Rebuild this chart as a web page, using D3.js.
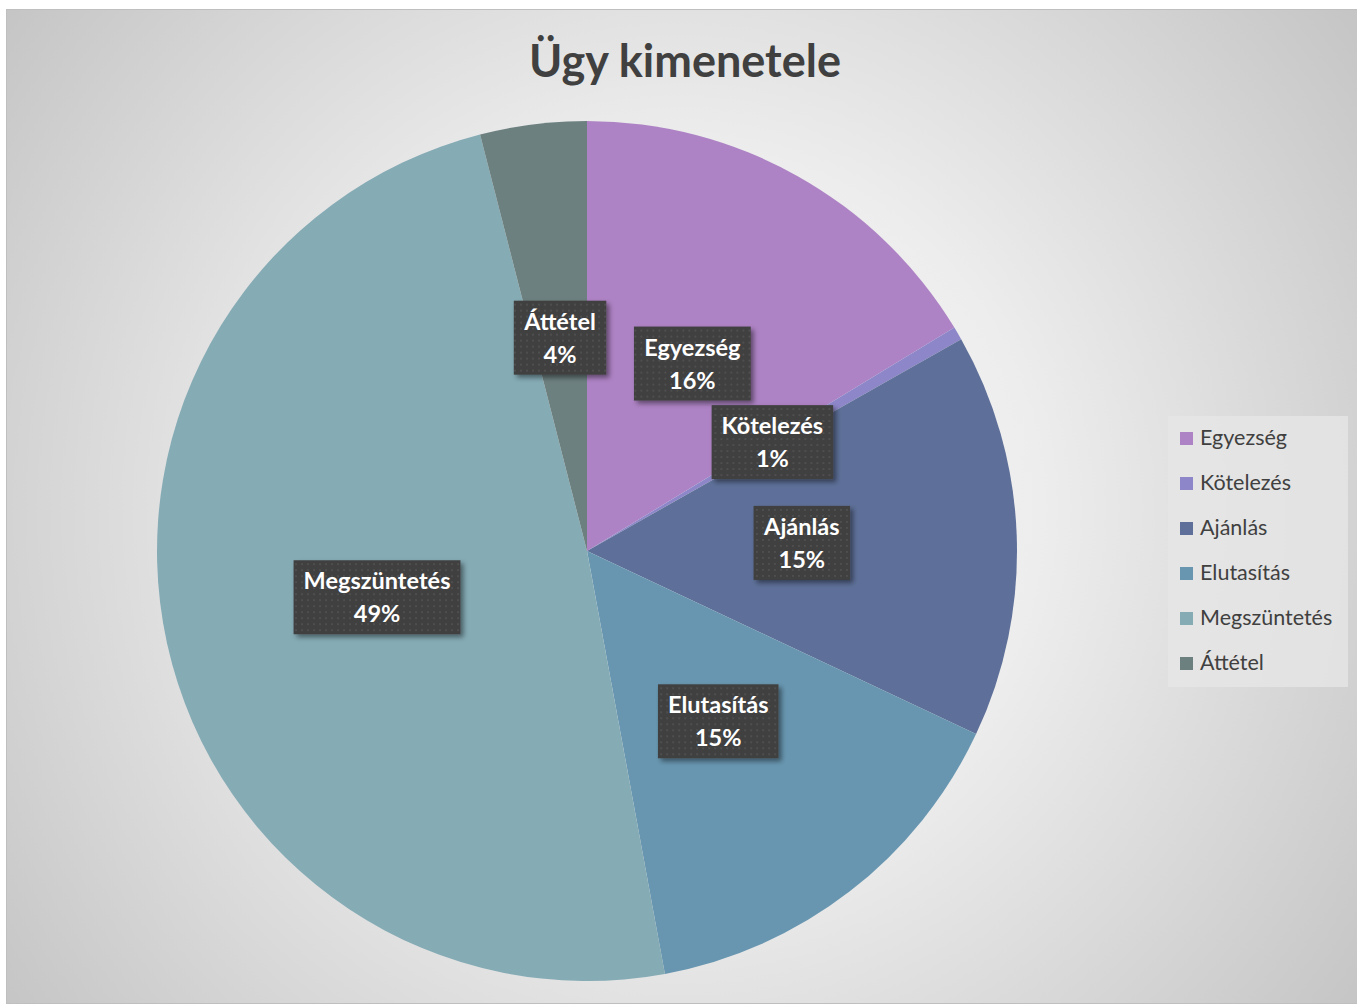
<!DOCTYPE html>
<html>
<head>
<meta charset="utf-8">
<script src="https://cdn.jsdelivr.net/npm/d3@7"></script>
<style>
  body { margin: 0; background: #fff; }
  text { font-family: Lato, "Open Sans", sans-serif; }
</style>
</head>
<body>
<svg id="chart"></svg>
<script>
const categories = ['Egyezség', 'Kötelezés', 'Ajánlás', 'Elutasítás', 'Megszüntetés', 'Áttétel'];
const shares = [16.3, 0.5, 15.2, 15.1, 48.9, 4.0];
const labels = ['16%', '1%', '15%', '15%', '49%', '4%'];
const colors = ['#ae83c5', '#8d86c9', '#5e7099', '#6896b0', '#85abb5', '#6d8080'];

const data = categories.map((c, i) => ({name: c, value: shares[i], label: labels[i]}));

const W = 1357, H = 1005;
const svg = d3.select('#chart').attr('width', W).attr('height', H);
const defs = svg.append('defs');

const bg = defs.append('radialGradient').attr('id', 'bg')
.attr('gradientUnits', 'userSpaceOnUse')
.attr('cx', 680).attr('cy', 510).attr('r', 900);
bg.append('stop').attr('offset', '0%').attr('stop-color', '#fbfbfb');
bg.append('stop').attr('offset', '40%').attr('stop-color', '#ededed');
bg.append('stop').attr('offset', '100%').attr('stop-color', '#c0c0c0');

const pat = defs.append('pattern').attr('id', 'dots')
.attr('patternUnits', 'userSpaceOnUse').attr('width', 6).attr('height', 6);
pat.append('rect').attr('width', 6).attr('height', 6).attr('fill', '#3f3f3f');
pat.append('rect').attr('x', 2).attr('y', 2).attr('width', 2).attr('height', 2).attr('fill', '#4f4f4f');

const shadow = defs.append('filter').attr('id', 'shadow')
.attr('x', '-20%').attr('y', '-20%').attr('width', '150%').attr('height', '150%');
shadow.append('feDropShadow').attr('dx', 3).attr('dy', 3).attr('stdDeviation', 2.5)
.attr('flood-color', '#000').attr('flood-opacity', 0.45);

// chart area
svg.append('rect')
.attr('x', 6.5).attr('y', 9.5).attr('width', W - 6).attr('height', 994)
.attr('fill', 'url(#bg)').attr('stroke', '#bfbfbf').attr('stroke-width', 1);

svg.append('text')
.attr('x', 685).attr('y', 77)
.attr('text-anchor', 'middle')
.style('font-size', '45px')
.style('font-weight', 'bold')
.style('fill', '#404040')
.text('Ügy kimenetele');

const cx = 587, cy = 551, R = 430;
const g = svg.append('g').attr('transform', `translate(${cx}, ${cy})`);

const pie = d3.pie().value(d => d.value).sort(null);
const arc = d3.arc().innerRadius(0).outerRadius(R);
const arcs = pie(data);

g.selectAll('path')
.data(arcs)
.enter()
.append('path')
.attr('d', arc)
.attr('fill', (d, i) => colors[i]);

// data labels
const lab = g.selectAll('g.lab')
.data(arcs)
.enter()
.append('g')
.attr('class', 'lab')
.attr('transform', d => `translate(${arc.centroid(d)})`);

lab.each(function(d) {
  const el = d3.select(this);
  const t = el.append('text')
  .attr('text-anchor', 'middle')
  .style('font-size', '23.5px')
  .style('font-weight', 'bold')
  .style('fill', '#fff');
  t.append('tspan').attr('x', 0).attr('y', -8).text(d.data.name);
  t.append('tspan').attr('x', 0).attr('y', 25).text(d.data.label);
  const bw = t.node().getBBox().width + 20;
  el.insert('rect', 'text')
  .attr('x', -bw / 2).attr('y', -37)
  .attr('width', bw).attr('height', 74)
  .attr('fill', 'url(#dots)')
  .attr('filter', 'url(#shadow)');
});

// legend
const lg = svg.append('g');
lg.append('rect')
.attr('x', 1168).attr('y', 416).attr('width', 180).attr('height', 271)
.attr('fill', '#e6e6e6').attr('opacity', 0.8);

const ly = d3.scalePoint().domain(categories).range([438, 663]);
categories.forEach((c, i) => {
  lg.append('rect')
  .attr('x', 1180).attr('y', ly(c) - 6)
  .attr('width', 13).attr('height', 13)
  .attr('fill', colors[i]);
  lg.append('text')
  .attr('x', 1200).attr('y', ly(c) + 7)
  .style('font-size', '21.5px')
  .style('fill', '#404040')
  .text(c);
});
</script>
</body>
</html>
